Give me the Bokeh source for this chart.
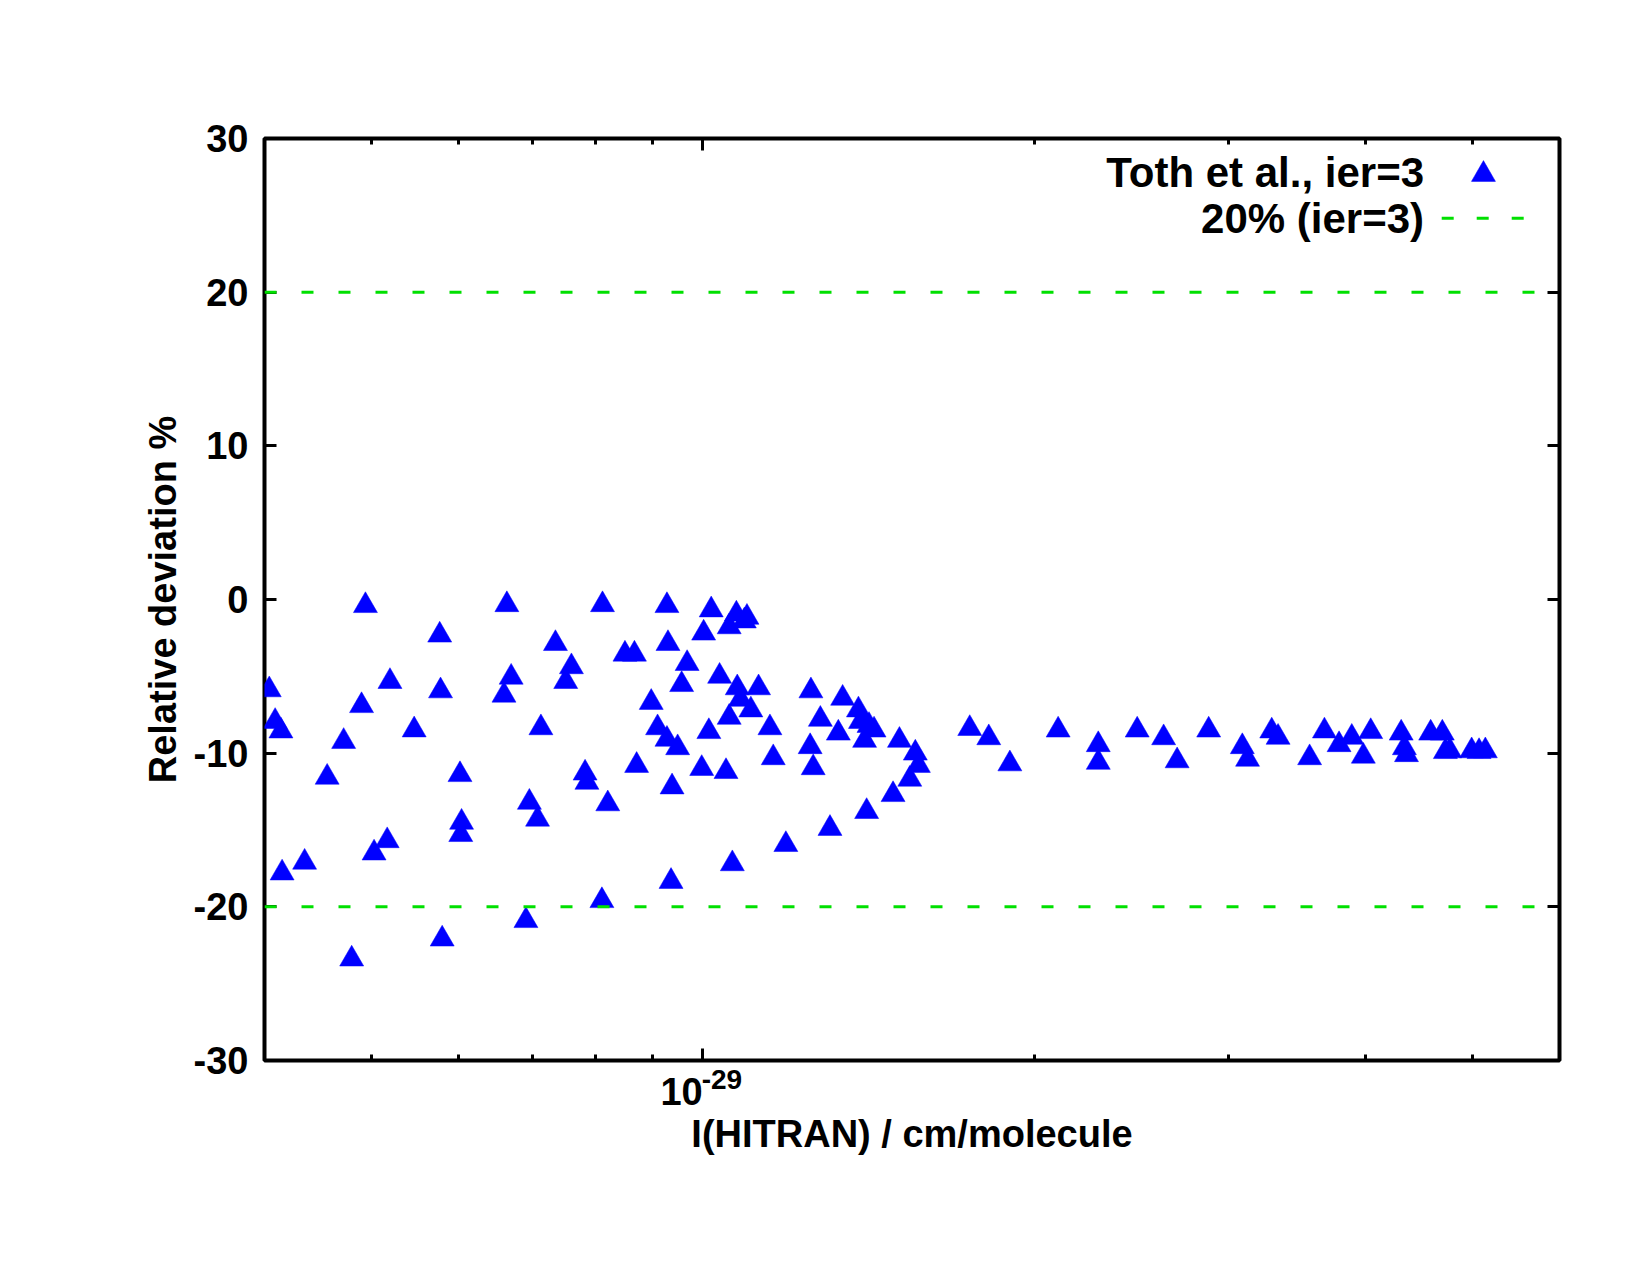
from bokeh.plotting import figure
from bokeh.models import (ColumnDataSource, Range1d, FixedTicker, LinearAxis, LogAxis,
                          Span, Label, Arrow, CustomJSTickFormatter)
from bokeh.embed import file_html
from bokeh.resources import INLINE

intensity_e29 = [
    0.404, 0.409, 0.414, 0.415, 0.435, 0.456, 0.472, 0.480, 0.490, 0.494,
    0.503, 0.517, 0.520, 0.547, 0.577, 0.578, 0.580, 0.602, 0.604, 0.603,
    0.660, 0.664, 0.670, 0.691, 0.696, 0.708, 0.713, 0.735, 0.751, 0.760,
    0.782, 0.785, 0.810, 0.811, 0.820, 0.850, 0.867, 0.871, 0.898, 0.910,
    0.928, 0.930, 0.928, 0.936, 0.938, 0.949, 0.957, 0.968, 0.998, 1.002,
    1.013, 1.018, 1.036, 1.050, 1.057, 1.057, 1.064, 1.073, 1.075, 1.082,
    1.097, 1.091, 1.106, 1.124, 1.151, 1.159, 1.190, 1.254, 1.252, 1.260,
    1.279, 1.305, 1.328, 1.340, 1.385, 1.391, 1.403, 1.409, 1.416, 1.431,
    1.489, 1.509, 1.542, 1.560, 1.570, 1.748, 1.819, 1.901, 2.103, 2.287,
    2.287, 2.481, 2.622, 2.697, 2.881, 3.091, 3.125, 3.287, 3.331, 3.558,
    3.670, 3.784, 3.886, 3.981, 4.043, 4.309, 4.338, 4.357, 4.583, 4.696,
    4.726, 4.770, 4.993, 5.071, 5.138,
]
deviation_pct = [
    -5.88, -7.94, -8.56, -17.8, -17.1, -11.57, -9.24, -23.4, -6.91, -0.40,
    -16.5, -15.7, -5.34, -8.49, -2.32, -5.95, -22.1, -11.4, -14.5, -15.3,
    -6.23, -0.34, -5.06, -20.9, -13.2, -14.3, -8.35, -2.87, -5.34, -4.38,
    -11.3, -11.9, -19.6, -0.34, -13.3, -3.56, -3.56, -10.8, -6.70, -8.35,
    -0.40, -2.87, -9.10, -18.35, -12.2, -9.65, -5.54, -4.17, -11.0, -2.19,
    -8.60, -0.68, -5.00, -11.2, -1.78, -7.67, -17.2, -0.95, -5.75, -6.50,
    -1.16, -1.40, -7.19, -5.75, -8.35, -10.3, -15.95, -5.95, -9.58, -10.95,
    -7.80, -14.9, -8.70, -6.43, -7.19, -7.94, -9.17, -13.8, -8.20, -8.50,
    -12.7, -9.17, -11.7, -10.0, -10.8, -8.40, -9.00, -10.7, -8.50, -9.45,
    -10.6, -8.50, -9.00, -10.5, -8.50, -9.58, -10.4, -8.56, -8.97, -10.3,
    -8.56, -9.45, -8.97, -10.2, -8.60, -8.70, -9.65, -10.1, -8.70, -8.70,
    -9.90, -9.85, -9.85, -9.90, -9.85,
]
limit_levels = [20, -20]
y_ticks = [-30, -20, -10, 0, 10, 20, 30]
x_major_ticks = [1e-29]
x_minor_ticks = [4e-30, 5e-30, 6e-30, 7e-30, 8e-30, 9e-30, 2e-29, 3e-29, 4e-29, 5e-29]
x_tick_base = "10"
x_tick_exponent = "-29"
series_label = "Toth et al., ier=3"
limit_label = "20% (ier=3)"
x_title = "I(HITRAN) / cm/molecule"
y_title = "Relative deviation %"

FONT = "Liberation Sans"
FS = "38px"
LFS = "42px"
BLUE = "#0000ff"
GREEN = "#00e000"

source = ColumnDataSource(data=dict(
    x=[v * 1e-29 for v in intensity_e29],
    y=deviation_pct,
))

p = figure(width=1650, height=1275, x_axis_type="log",
           x_range=Range1d(4e-30, 6e-29), y_range=Range1d(-30, 30),
           output_backend="svg", toolbar_location=None,
           min_border_left=264, min_border_right=91,
           min_border_top=138, min_border_bottom=215)
p.grid.visible = False
p.outline_line_color = "black"
p.outline_line_width = 4
p.background_fill_color = "white"
p.border_fill_color = "white"

blank = CustomJSTickFormatter(code="return '';")


def style_axis(ax):
    ax.axis_line_color = None
    ax.major_tick_in = 12
    ax.major_tick_out = 0
    ax.minor_tick_in = 6
    ax.minor_tick_out = 0
    ax.major_tick_line_width = 3
    ax.minor_tick_line_width = 3
    ax.major_tick_line_color = "black"
    ax.minor_tick_line_color = "black"
    ax.major_label_text_font = FONT
    ax.major_label_text_font_style = "bold"
    ax.major_label_text_font_size = FS
    ax.major_label_text_color = "black"
    ax.axis_label_text_font = FONT
    ax.axis_label_text_font_style = "bold"
    ax.axis_label_text_font_size = FS
    ax.axis_label_text_color = "black"


xa = p.xaxis[0]
style_axis(xa)
xa.ticker = FixedTicker(ticks=x_major_ticks, minor_ticks=x_minor_ticks)
xa.formatter = blank
xa.axis_label = x_title
xa.axis_label_standoff = 52

ya = p.yaxis[0]
style_axis(ya)
ya.ticker = FixedTicker(ticks=y_ticks)
ya.minor_tick_line_color = None
ya.major_label_standoff = 16
ya.major_label_overrides = {t: str(t) for t in y_ticks}
ya.axis_label = y_title
ya.axis_label_standoff = 7

ra = LinearAxis(ticker=FixedTicker(ticks=y_ticks), formatter=blank)
style_axis(ra)
ra.minor_tick_line_color = None
p.add_layout(ra, "right")

ta = LogAxis(ticker=FixedTicker(ticks=x_major_ticks, minor_ticks=x_minor_ticks), formatter=blank)
style_axis(ta)
p.add_layout(ta, "above")

for lv in limit_levels:
    p.add_layout(Span(location=lv, dimension="width", line_color=GREEN,
                      line_width=3, line_dash="12 25"))

p.scatter("x", "y", source=source, marker="triangle", size=24,
          fill_color=BLUE, line_color=BLUE, line_width=0.5)

# x tick label 10^-29 (base + superscript), placed in the bottom side panel so it is not clipped
p.add_layout(Label(x=x_major_ticks[0], y=-30, text=x_tick_base, text_align="right",
                   text_baseline="alphabetic", y_offset=-31, x_offset=0,
                   text_font=FONT, text_font_style="bold", text_font_size=FS,
                   text_color="black"), "below")
p.add_layout(Label(x=x_major_ticks[0], y=-30, text=x_tick_exponent, text_align="left",
                   text_baseline="alphabetic", y_offset=-19, x_offset=-1,
                   text_font=FONT, text_font_style="bold", text_font_size="28px",
                   text_color="black"), "below")

leg_text_x = 4.52e-29
p.add_layout(Label(x=leg_text_x, y=27.78, text=series_label, text_align="right",
                   text_baseline="alphabetic", text_font=FONT, text_font_style="bold",
                   text_font_size=LFS, text_color="black"))
p.add_layout(Label(x=leg_text_x, y=24.77, text=limit_label, text_align="right",
                   text_baseline="alphabetic", text_font=FONT, text_font_style="bold",
                   text_font_size=LFS, text_color="black"))
leg_src = ColumnDataSource(data=dict(x=[5.118e-29], y=[27.66]))
p.scatter("x", "y", source=leg_src, marker="triangle", size=24,
          fill_color=BLUE, line_color=BLUE, line_width=0.5)
p.add_layout(Arrow(end=None, x_start=4.69e-29, y_start=24.81, x_end=5.59e-29, y_end=24.81,
                   line_color=GREEN, line_width=3, line_dash="12 23"))

open("out.html", "w").write(file_html(p, INLINE))
